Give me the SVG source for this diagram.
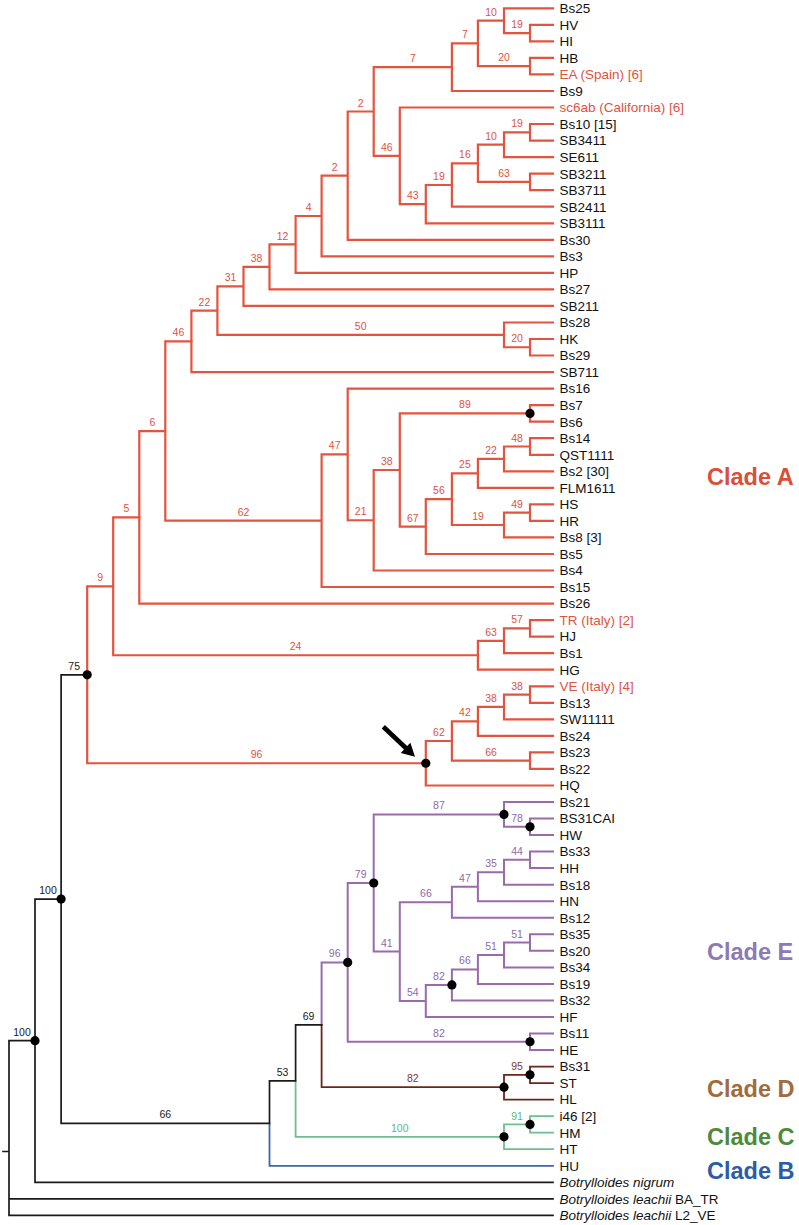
<svg xmlns="http://www.w3.org/2000/svg" width="799" height="1225" viewBox="0 0 799 1225">
<style>
.e{fill:none;stroke-linecap:square;stroke-linejoin:miter}
.r{stroke:#e4533d;stroke-width:2.2}
.p{stroke:#9a6aac;stroke-width:2}
.d{stroke:#6e2419;stroke-width:1.8}
.g{stroke:#6cc08d;stroke-width:1.8}
.b{stroke:#3b66ac;stroke-width:1.8}
.k{stroke:#1a1a1a;stroke-width:1.7}
text{font-family:"Liberation Sans",Arial,sans-serif}
.s{font-size:10.5px;text-anchor:middle}
.sr{fill:#e0533f}.sp{fill:#8e6aa8}.sd{fill:#7a3b30}.sg{fill:#5fb57f}.sk{fill:#1a1a1a}
.l{font-size:13.5px;fill:#111}
.lr{fill:#e0533f}
.c{font-size:23.5px;font-weight:bold}
.dot{fill:#000}
</style>
<g id="connectors">
<path class="e r" d="M530 33.1V24.8H553M530 33.1V41.4H553M504 20.7V8.3H553M504 20.7V33.1H530M530 66.15V57.9H553M530 66.15V74.4H553M477.9 43.4V20.7H504M477.9 43.4V66.15H530M451.9 67.2V43.4H477.9M451.9 67.2V91H553M530 132.3V124H553M530 132.3V140.6H553M504 144.7V132.3H530M504 144.7V157.1H553M530 181.95V173.7H553M530 181.95V190.2H553M477.9 163.3V144.7H504M477.9 163.3V181.95H530M451.9 185V163.3H477.9M451.9 185V206.7H553M425.8 204.15V185H451.9M425.8 204.15V223.3H553M399.8 155.8V107.5H553M399.8 155.8V204.15H425.8M373.7 111.5V67.2H451.9M373.7 111.5V155.8H399.8M347.7 175.65V111.5H373.7M347.7 175.65V239.8H553M321.6 216V175.65H347.7M321.6 216V256.3H553M295.6 244.45V216H321.6M295.6 244.45V272.9H553M269.5 266.9V244.45H295.6M269.5 266.9V289.4H553M243.5 286.4V266.9H269.5M243.5 286.4V305.9H553M530 347.25V339H553M530 347.25V355.5H553M504 334.9V322.5H553M504 334.9V347.25H530M217.4 310.65V286.4H243.5M217.4 310.65V334.9H504M191.4 341.4V310.65H217.4M191.4 341.4V372.1H553"/>
<path class="e r" d="M530 413.4V405.1H553M530 413.4V421.7H553M530 446.5V438.2H553M530 446.5V454.8H553M504 458.9V446.5H530M504 458.9V471.3H553M477.9 473.35V458.9H504M477.9 473.35V487.8H553M530 512.65V504.4H553M530 512.65V520.9H553M504 525V512.65H530M504 525V537.4H553M451.9 499.2V473.35H477.9M451.9 499.2V525H504M425.8 526.6V499.2H451.9M425.8 526.6V554H553M399.8 470V413.4H530M399.8 470V526.6H425.8M373.7 520.25V470H399.8M373.7 520.25V570.5H553M347.7 454.4V388.6H553M347.7 454.4V520.25H373.7M321.6 520.7V454.4H347.7M321.6 520.7V587H553M165.3 431.05V341.4H191.4M165.3 431.05V520.7H321.6M139.3 517.3V431.05H165.3M139.3 517.3V603.6H553"/>
<path class="e r" d="M530 628.35V620.1H553M530 628.35V636.6H553M504 640.8V628.35H530M504 640.8V653.2H553M477.9 655.25V640.8H504M477.9 655.25V669.7H553M113.2 586.3V517.3H139.3M113.2 586.3V655.25H477.9M530 694.55V686.3H553M530 694.55V702.8H553M504 706.9V694.55H530M504 706.9V719.3H553M477.9 721.4V706.9H504M477.9 721.4V735.9H553M530 760.65V752.4H553M530 760.65V768.9H553M451.9 741V721.4H477.9M451.9 741V760.65H530M425.8 763.25V741H451.9M425.8 763.25V785.5H553M87.2 674.8V586.3H113.2M87.2 674.8V763.25H425.8"/>
<path class="e p" d="M530 826.8V818.5H553M530 826.8V835.1H553M504 814.4V802H553M504 814.4V826.8H530M530 859.85V851.6H553M530 859.85V868.1H553M504 872.3V859.85H530M504 872.3V884.7H553M477.9 886.75V872.3H504M477.9 886.75V901.2H553M451.9 902.2V886.75H477.9M451.9 902.2V917.7H553M530 942.55V934.3H553M530 942.55V950.8H553M504 954.95V942.55H530M504 954.95V967.4H553M477.9 969.4V954.95H504M477.9 969.4V983.9H553M451.9 984.9V969.4H477.9M451.9 984.9V1000.4H553M425.8 1000.95V984.9H451.9M425.8 1000.95V1017H553M399.8 951.6V902.2H451.9M399.8 951.6V1000.95H425.8M373.7 883V814.4H504M373.7 883V951.6H399.8M530 1041.75V1033.5H553M530 1041.75V1050H553M347.7 962.4V883H373.7M347.7 962.4V1041.75H530M321.6 1024.8V962.4H347.7"/>
<path class="e d" d="M321.6 1024.8V1087.2H504M530 1074.85V1066.6H553M530 1074.85V1083.1H553M504 1087.2V1074.85H530M504 1087.2V1099.6H553"/>
<path class="e g" d="M530 1124.45V1116.2H553M530 1124.45V1132.7H553M504 1136.8V1124.45H530M504 1136.8V1149.2H553M295.6 1080.8V1136.8H504"/>
<path class="e b" d="M269.5 1123.3V1165.8H553"/>
<path class="e k" d="M295.6 1080.8V1024.8H321.6M269.5 1123.3V1080.8H295.6M61.1 899.05V674.8H87.2M61.1 899.05V1123.3H269.5M35 1040.7V899.05H61.1M35 1040.7V1182.3H553M9 1040.7H35M9 1040.7V1215.4H553M9 1198.8H553M3 1151.5H9"/>
</g>
<g id="internal-nodes">
<g id="n10a"><text class="s sr" x="491" y="15.7">10</text></g>
<g id="n19a"><text class="s sr" x="517" y="28.1">19</text></g>
<g id="n20a"><text class="s sr" x="504" y="61.2">20</text></g>
<g id="n7a"><text class="s sr" x="464.9" y="38.4">7</text></g>
<g id="n7b"><text class="s sr" x="412.8" y="62.2">7</text></g>
<g id="n2a"><text class="s sr" x="360.7" y="106.5">2</text></g>
<g id="n46a"><text class="s sr" x="386.8" y="150.8">46</text></g>
<g id="n19b"><text class="s sr" x="517" y="127.3">19</text></g>
<g id="n10b"><text class="s sr" x="491" y="139.7">10</text></g>
<g id="n16"><text class="s sr" x="464.9" y="158.3">16</text></g>
<g id="n63a"><text class="s sr" x="504" y="177">63</text></g>
<g id="n19c"><text class="s sr" x="438.9" y="180">19</text></g>
<g id="n43"><text class="s sr" x="412.8" y="199.2">43</text></g>
<g id="n2b"><text class="s sr" x="334.7" y="170.7">2</text></g>
<g id="n4"><text class="s sr" x="308.6" y="211">4</text></g>
<g id="n12"><text class="s sr" x="282.6" y="239.5">12</text></g>
<g id="n38a"><text class="s sr" x="256.5" y="261.9">38</text></g>
<g id="n31"><text class="s sr" x="230.5" y="281.4">31</text></g>
<g id="n22a"><text class="s sr" x="204.4" y="305.7">22</text></g>
<g id="n46b"><text class="s sr" x="178.4" y="336.4">46</text></g>
<g id="n50"><text class="s sr" x="360.7" y="329.9">50</text></g>
<g id="n20b"><text class="s sr" x="517" y="342.3">20</text></g>
<g id="n6"><text class="s sr" x="152.3" y="426.1">6</text></g>
<g id="n5"><text class="s sr" x="126.3" y="512.3">5</text></g>
<g id="n9"><text class="s sr" x="100.2" y="581.3">9</text></g>
<g id="n62a"><text class="s sr" x="243.5" y="515.7">62</text></g>
<g id="n47a"><text class="s sr" x="334.7" y="449.4">47</text></g>
<g id="n21"><text class="s sr" x="360.7" y="515.3">21</text></g>
<g id="n38b"><text class="s sr" x="386.8" y="465">38</text></g>
<g id="n89"><text class="s sr" x="464.9" y="408.4">89</text><circle class="dot" cx="530" cy="413.4" r="4.6"/></g>
<g id="n67"><text class="s sr" x="412.8" y="521.6">67</text></g>
<g id="n56"><text class="s sr" x="438.9" y="494.2">56</text></g>
<g id="n25"><text class="s sr" x="464.9" y="468.4">25</text></g>
<g id="n22b"><text class="s sr" x="491" y="453.9">22</text></g>
<g id="n48"><text class="s sr" x="517" y="441.5">48</text></g>
<g id="n19d"><text class="s sr" x="478" y="520">19</text></g>
<g id="n49"><text class="s sr" x="517" y="507.7">49</text></g>
<g id="n24"><text class="s sr" x="295.6" y="650.3">24</text></g>
<g id="n63b"><text class="s sr" x="491" y="635.8">63</text></g>
<g id="n57"><text class="s sr" x="517" y="623.4">57</text></g>
<g id="n96a"><text class="s sr" x="256.5" y="758.3">96</text><circle class="dot" cx="425.8" cy="763.25" r="4.6"/></g>
<g id="n62b"><text class="s sr" x="438.9" y="736">62</text></g>
<g id="n42"><text class="s sr" x="464.9" y="716.4">42</text></g>
<g id="n38c"><text class="s sr" x="491" y="701.9">38</text></g>
<g id="n38d"><text class="s sr" x="517" y="689.6">38</text></g>
<g id="n66a"><text class="s sr" x="491" y="755.7">66</text></g>
<g id="n75"><text class="s sk" x="74.2" y="669.8">75</text><circle class="dot" cx="87.2" cy="674.8" r="4.6"/></g>
<g id="n100a"><text class="s sk" x="48" y="894">100</text><circle class="dot" cx="61.1" cy="899.05" r="4.6"/></g>
<g id="n100b"><text class="s sk" x="22" y="1035.7">100</text><circle class="dot" cx="35" cy="1040.7" r="4.6"/></g>
<g id="n66d"><text class="s sk" x="165.3" y="1118.3">66</text></g>
<g id="n53"><text class="s sk" x="282.6" y="1075.8">53</text></g>
<g id="n69"><text class="s sk" x="308.6" y="1019.8">69</text></g>
<g id="n96b"><text class="s sp" x="334.7" y="957.4">96</text><circle class="dot" cx="347.7" cy="962.4" r="4.6"/></g>
<g id="n79"><text class="s sp" x="360.7" y="878">79</text><circle class="dot" cx="373.7" cy="883" r="4.6"/></g>
<g id="n87"><text class="s sp" x="438.9" y="809.4">87</text><circle class="dot" cx="504" cy="814.4" r="4.6"/></g>
<g id="n78"><text class="s sp" x="517" y="821.8">78</text><circle class="dot" cx="530" cy="826.8" r="4.6"/></g>
<g id="n41"><text class="s sp" x="386.8" y="946.6">41</text></g>
<g id="n66b"><text class="s sp" x="425.9" y="897.2">66</text></g>
<g id="n47b"><text class="s sp" x="464.9" y="881.8">47</text></g>
<g id="n35"><text class="s sp" x="491" y="867.3">35</text></g>
<g id="n44"><text class="s sp" x="517" y="854.9">44</text></g>
<g id="n54"><text class="s sp" x="412.8" y="996">54</text></g>
<g id="n82b"><text class="s sp" x="438.9" y="979.9">82</text><circle class="dot" cx="451.9" cy="984.9" r="4.6"/></g>
<g id="n66c"><text class="s sp" x="464.9" y="964.4">66</text></g>
<g id="n51a"><text class="s sp" x="491" y="950">51</text></g>
<g id="n51b"><text class="s sp" x="517" y="937.6">51</text></g>
<g id="n82a"><text class="s sp" x="438.9" y="1036.8">82</text><circle class="dot" cx="530" cy="1041.75" r="4.6"/></g>
<g id="n82c"><text class="s sd" x="412.8" y="1082.2">82</text><circle class="dot" cx="504" cy="1087.2" r="4.6"/></g>
<g id="n95"><text class="s sd" x="517" y="1069.9">95</text><circle class="dot" cx="530" cy="1074.85" r="4.6"/></g>
<g id="n100c"><text class="s sg" x="399.8" y="1131.8">100</text><circle class="dot" cx="504" cy="1136.8" r="4.6"/></g>
<g id="n91"><text class="s sg" x="517" y="1119.5">91</text><circle class="dot" cx="530" cy="1124.45" r="4.6"/></g>
</g>
<g id="leaves">
<g id="leaf-Bs25"><text class="l" x="559.5" y="13.1">Bs25</text></g>
<g id="leaf-HV"><text class="l" x="559.5" y="29.6">HV</text></g>
<g id="leaf-HI"><text class="l" x="559.5" y="46.2">HI</text></g>
<g id="leaf-HB"><text class="l" x="559.5" y="62.7">HB</text></g>
<g id="leaf-EA"><text class="l lr" x="559.5" y="79.2">EA (Spain) [6]</text></g>
<g id="leaf-Bs9"><text class="l" x="559.5" y="95.8">Bs9</text></g>
<g id="leaf-sc6ab"><text class="l lr" x="559.5" y="112.3">sc6ab (California) [6]</text></g>
<g id="leaf-Bs10"><text class="l" x="559.5" y="128.8">Bs10 [15]</text></g>
<g id="leaf-SB3411"><text class="l" x="559.5" y="145.4">SB3411</text></g>
<g id="leaf-SE611"><text class="l" x="559.5" y="161.9">SE611</text></g>
<g id="leaf-SB3211"><text class="l" x="559.5" y="178.5">SB3211</text></g>
<g id="leaf-SB3711"><text class="l" x="559.5" y="195">SB3711</text></g>
<g id="leaf-SB2411"><text class="l" x="559.5" y="211.5">SB2411</text></g>
<g id="leaf-SB3111"><text class="l" x="559.5" y="228.1">SB3111</text></g>
<g id="leaf-Bs30"><text class="l" x="559.5" y="244.6">Bs30</text></g>
<g id="leaf-Bs3"><text class="l" x="559.5" y="261.1">Bs3</text></g>
<g id="leaf-HP"><text class="l" x="559.5" y="277.7">HP</text></g>
<g id="leaf-Bs27"><text class="l" x="559.5" y="294.2">Bs27</text></g>
<g id="leaf-SB211"><text class="l" x="559.5" y="310.7">SB211</text></g>
<g id="leaf-Bs28"><text class="l" x="559.5" y="327.3">Bs28</text></g>
<g id="leaf-HK"><text class="l" x="559.5" y="343.8">HK</text></g>
<g id="leaf-Bs29"><text class="l" x="559.5" y="360.3">Bs29</text></g>
<g id="leaf-SB711"><text class="l" x="559.5" y="376.9">SB711</text></g>
<g id="leaf-Bs16"><text class="l" x="559.5" y="393.4">Bs16</text></g>
<g id="leaf-Bs7"><text class="l" x="559.5" y="409.9">Bs7</text></g>
<g id="leaf-Bs6"><text class="l" x="559.5" y="426.5">Bs6</text></g>
<g id="leaf-Bs14"><text class="l" x="559.5" y="443">Bs14</text></g>
<g id="leaf-QST1111"><text class="l" x="559.5" y="459.6">QST1111</text></g>
<g id="leaf-Bs2"><text class="l" x="559.5" y="476.1">Bs2 [30]</text></g>
<g id="leaf-FLM1611"><text class="l" x="559.5" y="492.6">FLM1611</text></g>
<g id="leaf-HS"><text class="l" x="559.5" y="509.2">HS</text></g>
<g id="leaf-HR"><text class="l" x="559.5" y="525.7">HR</text></g>
<g id="leaf-Bs8"><text class="l" x="559.5" y="542.2">Bs8 [3]</text></g>
<g id="leaf-Bs5"><text class="l" x="559.5" y="558.8">Bs5</text></g>
<g id="leaf-Bs4"><text class="l" x="559.5" y="575.3">Bs4</text></g>
<g id="leaf-Bs15"><text class="l" x="559.5" y="591.8">Bs15</text></g>
<g id="leaf-Bs26"><text class="l" x="559.5" y="608.4">Bs26</text></g>
<g id="leaf-TR"><text class="l lr" x="559.5" y="624.9">TR (Italy) [2]</text></g>
<g id="leaf-HJ"><text class="l" x="559.5" y="641.4">HJ</text></g>
<g id="leaf-Bs1"><text class="l" x="559.5" y="658">Bs1</text></g>
<g id="leaf-HG"><text class="l" x="559.5" y="674.5">HG</text></g>
<g id="leaf-VE"><text class="l lr" x="559.5" y="691.1">VE (Italy) [4]</text></g>
<g id="leaf-Bs13"><text class="l" x="559.5" y="707.6">Bs13</text></g>
<g id="leaf-SW11111"><text class="l" x="559.5" y="724.1">SW11111</text></g>
<g id="leaf-Bs24"><text class="l" x="559.5" y="740.7">Bs24</text></g>
<g id="leaf-Bs23"><text class="l" x="559.5" y="757.2">Bs23</text></g>
<g id="leaf-Bs22"><text class="l" x="559.5" y="773.7">Bs22</text></g>
<g id="leaf-HQ"><text class="l" x="559.5" y="790.3">HQ</text></g>
<g id="leaf-Bs21"><text class="l" x="559.5" y="806.8">Bs21</text></g>
<g id="leaf-BS31CAI"><text class="l" x="559.5" y="823.3">BS31CAI</text></g>
<g id="leaf-HW"><text class="l" x="559.5" y="839.9">HW</text></g>
<g id="leaf-Bs33"><text class="l" x="559.5" y="856.4">Bs33</text></g>
<g id="leaf-HH"><text class="l" x="559.5" y="872.9">HH</text></g>
<g id="leaf-Bs18"><text class="l" x="559.5" y="889.5">Bs18</text></g>
<g id="leaf-HN"><text class="l" x="559.5" y="906">HN</text></g>
<g id="leaf-Bs12"><text class="l" x="559.5" y="922.5">Bs12</text></g>
<g id="leaf-Bs35"><text class="l" x="559.5" y="939.1">Bs35</text></g>
<g id="leaf-Bs20"><text class="l" x="559.5" y="955.6">Bs20</text></g>
<g id="leaf-Bs34"><text class="l" x="559.5" y="972.2">Bs34</text></g>
<g id="leaf-Bs19"><text class="l" x="559.5" y="988.7">Bs19</text></g>
<g id="leaf-Bs32"><text class="l" x="559.5" y="1005.2">Bs32</text></g>
<g id="leaf-HF"><text class="l" x="559.5" y="1021.8">HF</text></g>
<g id="leaf-Bs11"><text class="l" x="559.5" y="1038.3">Bs11</text></g>
<g id="leaf-HE"><text class="l" x="559.5" y="1054.8">HE</text></g>
<g id="leaf-Bs31"><text class="l" x="559.5" y="1071.4">Bs31</text></g>
<g id="leaf-ST"><text class="l" x="559.5" y="1087.9">ST</text></g>
<g id="leaf-HL"><text class="l" x="559.5" y="1104.4">HL</text></g>
<g id="leaf-i46"><text class="l" x="559.5" y="1121">i46 [2]</text></g>
<g id="leaf-HM"><text class="l" x="559.5" y="1137.5">HM</text></g>
<g id="leaf-HT"><text class="l" x="559.5" y="1154">HT</text></g>
<g id="leaf-HU"><text class="l" x="559.5" y="1170.6">HU</text></g>
<g id="leaf-nigrum"><text class="l" x="559.5" y="1187.1" font-style="italic">Botrylloides nigrum</text></g>
<g id="leaf-BA_TR"><text class="l" x="559.5" y="1203.6"><tspan font-style="italic">Botrylloides leachii</tspan> BA_TR</text></g>
<g id="leaf-L2_VE"><text class="l" x="559.5" y="1220.2"><tspan font-style="italic">Botrylloides leachii</tspan> L2_VE</text></g>
</g>
<g id="clade-labels">
<text class="c" x="707" y="485" fill="#d9503a">Clade A</text>
<text class="c" x="707" y="960" fill="#8c7ab4">Clade E</text>
<text class="c" x="707" y="1096.7" fill="#a06c3c">Clade D</text>
<text class="c" x="707" y="1145" fill="#4f8a3a">Clade C</text>
<text class="c" x="707" y="1179.3" fill="#2d5ca6">Clade B</text>
</g>
<g id="arrow">
<path fill="#000" d="M384.9 725L407.2 746.1L410.4 742.7L415 756.7L400.8 752.9L404 749.5L381.7 728.4Z"/>
</g>
</svg>
